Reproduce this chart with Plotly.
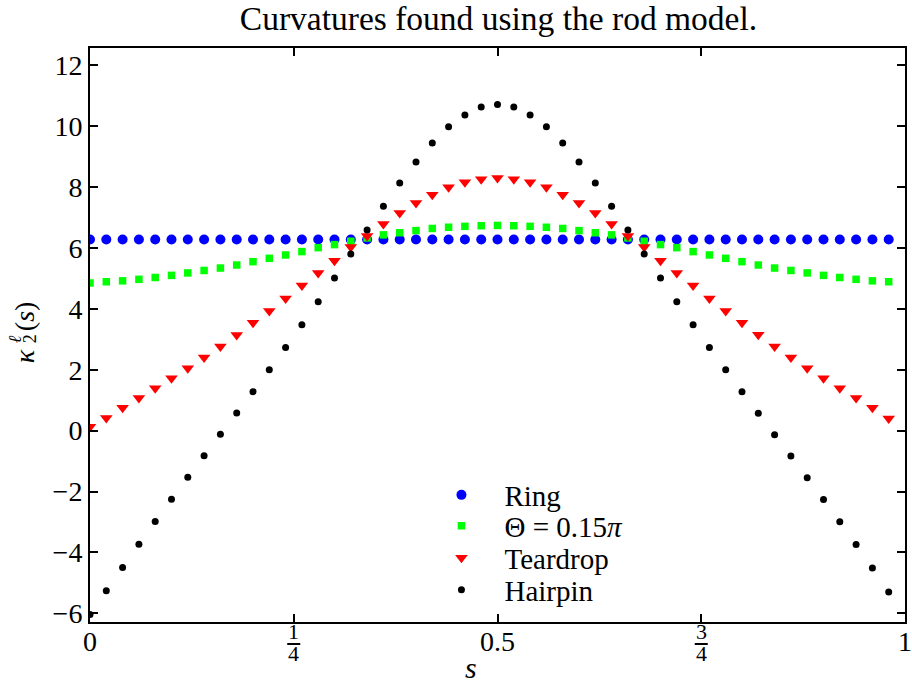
import math
import plotly.graph_objects as go

# Arc-length parameter along the rod
S = [0.00, 0.02, 0.04, 0.06, 0.08, 0.10, 0.12, 0.14, 0.16, 0.18,
     0.20, 0.22, 0.24, 0.26, 0.28, 0.30, 0.32, 0.34, 0.36, 0.38,
     0.40, 0.42, 0.44, 0.46, 0.48, 0.50, 0.52, 0.54, 0.56, 0.58,
     0.60, 0.62, 0.64, 0.66, 0.68, 0.70, 0.72, 0.74, 0.76, 0.78,
     0.80, 0.82, 0.84, 0.86, 0.88, 0.90, 0.92, 0.94, 0.96, 0.98]

# Curvature kappa_2 for each equilibrium shape
RING = [6.28, 6.28, 6.28, 6.28, 6.28, 6.28, 6.28, 6.28, 6.28, 6.28,
        6.28, 6.28, 6.28, 6.28, 6.28, 6.28, 6.28, 6.28, 6.28, 6.28,
        6.28, 6.28, 6.28, 6.28, 6.28, 6.28, 6.28, 6.28, 6.28, 6.28,
        6.28, 6.28, 6.28, 6.28, 6.28, 6.28, 6.28, 6.28, 6.28, 6.28,
        6.28, 6.28, 6.28, 6.28, 6.28, 6.28, 6.28, 6.28, 6.28, 6.28]

THETA = [4.85, 4.89, 4.92, 4.97, 5.03, 5.10, 5.18, 5.26, 5.34, 5.44,
         5.55, 5.66, 5.77, 5.88, 6.01, 6.11, 6.22, 6.33, 6.43, 6.50,
         6.57, 6.64, 6.68, 6.71, 6.73, 6.74, 6.73, 6.71, 6.68, 6.64,
         6.57, 6.50, 6.43, 6.33, 6.22, 6.11, 6.01, 5.88, 5.77, 5.66,
         5.55, 5.44, 5.34, 5.26, 5.18, 5.10, 5.03, 4.97, 4.92, 4.89]

TEARDROP = [0.13, 0.42, 0.75, 1.07, 1.39, 1.72, 2.05, 2.40, 2.76, 3.14,
            3.54, 3.93, 4.34, 4.77, 5.18, 5.58, 6.03, 6.39, 6.79, 7.15,
            7.48, 7.75, 7.99, 8.16, 8.26, 8.30, 8.26, 8.16, 7.99, 7.75,
            7.48, 7.15, 6.79, 6.39, 6.03, 5.58, 5.18, 4.77, 4.34, 3.93,
            3.54, 3.15, 2.76, 2.40, 2.05, 1.72, 1.39, 1.07, 0.75, 0.40]

HAIRPIN = [-6.04, -5.26, -4.49, -3.73, -2.98, -2.25, -1.53, -0.82, -0.12, 0.58,
           1.28, 2.00, 2.73, 3.48, 4.23, 5.01, 5.80, 6.59, 7.37, 8.13,
           8.82, 9.45, 9.98, 10.37, 10.63, 10.71, 10.63, 10.37, 9.98, 9.45,
           8.82, 8.13, 7.37, 6.59, 5.80, 5.01, 4.23, 3.48, 2.73, 2.00,
           1.28, 0.57, -0.13, -0.83, -1.55, -2.26, -2.99, -3.74, -4.51, -5.30]

X_TICKS = [0, 0.25, 0.5, 0.75, 1]
X_LABELS = [(0, "0"), (0.5, "0.5"), (1, "1")]
FRACTIONS = [(0.25, "1", "4"), (0.75, "3", "4")]
Y_TICKS = [-6, -4, -2, 0, 2, 4, 6, 8, 10, 12]

FONT = "Liberation Serif"

# Plot-area geometry in pixels, used to place the hand-set labels
L, R, T, B = 90, 907, 48, 622


def px_x(px):
    return (px - L) / (R - L)


def px_y(py):
    return (B - py) / (B - T)


# name, values, symbol, size, colour, legend id, legend row centre (px)
series = [
    ("Ring", RING, "circle", 10, "#0000ff", "legend", 495),
    ("Θ = 0.15<i>π</i>", THETA, "square", 7.5, "#00ff00", "legend2", 526),
    ("Teardrop", TEARDROP, "triangle-down", 11, "#ff0000", "legend3", 558),
    ("Hairpin", HAIRPIN, "circle", 7, "#000000", "legend4", 590),
]

fig = go.Figure()
legend_layout = {}
for name, vals, sym, size, col, leg, row_py in series:
    fig.add_trace(go.Scatter(
        x=S, y=vals, mode="markers", name=name, legend=leg,
        marker=dict(symbol=sym, size=size, color=col, line=dict(width=0)),
    ))
    legend_layout[leg] = dict(
        x=0.403, y=px_y(row_py), xanchor="left", yanchor="middle",
        bgcolor="rgba(0,0,0,0)", borderwidth=0, itemwidth=76,
        font=dict(family=FONT, size=29, color="black"),
    )

axis_common = dict(
    showline=True, linecolor="black", linewidth=2, mirror="ticks",
    ticks="inside", ticklen=8, tickwidth=2, tickcolor="black",
    showgrid=False, zeroline=False,
    tickfont=dict(family=FONT, size=28, color="black"),
)

fig.update_layout(
    width=912, height=686,
    margin=dict(l=L, r=912 - R, t=T, b=686 - B),
    paper_bgcolor="white", plot_bgcolor="white",
    font=dict(family=FONT, color="black"),
    title=dict(text="Curvatures found using the rod model.",
               x=(L + R) / 2 / 912, xanchor="center",
               y=1 - 18 / 686, yanchor="middle", yref="container",
               font=dict(family=FONT, size=33.5, color="black")),
    xaxis=dict(range=[0, 1], tickvals=X_TICKS, showticklabels=False, **axis_common),
    yaxis=dict(range=[-2 * math.pi, 4 * math.pi], tickvals=Y_TICKS, **axis_common),
    showlegend=True,
    **legend_layout,
)

# s-axis tick labels (x axis spans paper 0..1)
for xv, txt in X_LABELS:
    fig.add_annotation(x=xv, y=px_y(641), xref="paper", yref="paper", text=txt,
                       showarrow=False, xanchor="center", yanchor="middle",
                       font=dict(family=FONT, size=28, color="black"))

# Stacked fraction tick labels
for xv, num, den in FRACTIONS:
    fig.add_annotation(x=xv, y=px_y(631), xref="paper", yref="paper", text=num,
                       showarrow=False, xanchor="center", yanchor="middle",
                       height=21, borderpad=0,
                       font=dict(family=FONT, size=22, color="black"))
    fig.add_annotation(x=xv, y=px_y(653), xref="paper", yref="paper", text=den,
                       showarrow=False, xanchor="center", yanchor="middle",
                       height=21, borderpad=0,
                       font=dict(family=FONT, size=22, color="black"))
    fig.add_shape(type="line", xref="paper", yref="paper",
                  x0=xv - 0.008, x1=xv + 0.008, y0=px_y(644), y1=px_y(644),
                  line=dict(color="black", width=2))

# x-axis label
fig.add_annotation(x=px_x(472), y=px_y(686), xref="paper", yref="paper",
                   text="<i>s</i>", showarrow=False, yanchor="bottom",
                   font=dict(family=FONT, size=30, color="black"))

# y-axis label kappa_2^l(s), with sub- and superscript stacked
ylab = [
    ("<i>κ</i>", 24, 356, 28),
    ("<i>ℓ</i>", 15, 339, 18),
    ("2", 30, 339, 18),
    ("(<i>s</i>)", 24, 316, 28),
]
for txt, xp, yp, fs in ylab:
    fig.add_annotation(x=px_x(xp), y=px_y(yp), xref="paper", yref="paper",
                       text=txt, textangle=-90, showarrow=False,
                       xanchor="center", yanchor="middle",
                       font=dict(family=FONT, size=fs, color="black"))

fig.write_html("out.html")
